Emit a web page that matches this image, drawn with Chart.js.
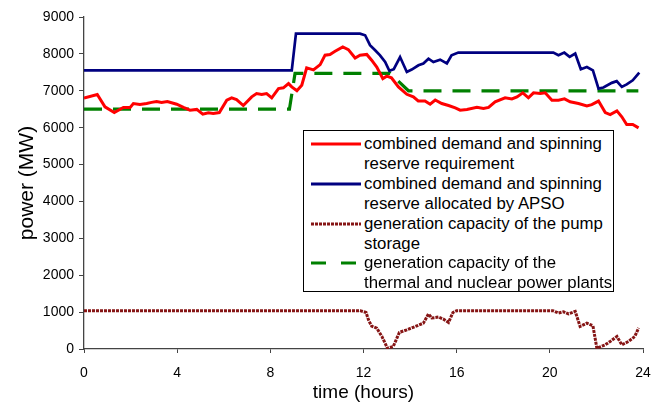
<!DOCTYPE html>
<html>
<head>
<meta charset="utf-8">
<script src="https://cdn.jsdelivr.net/npm/chart.js@4"></script>
<style>
  body { margin: 0; background: #fff; }
  #wrap { position: relative; width: 666px; height: 411px; }
  #legend {
    position: absolute; left: 303px; top: 130px; width: 311px; height: 162px;
    border: 1px solid #000; background: #fff; box-sizing: border-box;
    padding-top: 3px;
    font: 16.8px "Liberation Sans", Arial, sans-serif; line-height: 19.9px; color: #000;
  }
  .entry { position: relative; padding-left: 60px; white-space: nowrap; }
  .entry svg { position: absolute; left: 7px; top: 5px; }
</style>
</head>
<body>
<div id="wrap">
  <canvas id="chart" width="666" height="411"></canvas>
  <div id="legend">
    <div class="entry"><svg width="50" height="10"><line x1="0" y1="5" x2="50" y2="5" stroke="#ff0000" stroke-width="3"/></svg>combined demand and spinning<br>reserve requirement</div>
    <div class="entry"><svg width="50" height="10"><line x1="0" y1="5" x2="50" y2="5" stroke="#000080" stroke-width="3"/></svg>combined demand and spinning<br>reserve allocated by APSO</div>
    <div class="entry"><svg width="50" height="10"><line x1="0" y1="5" x2="50" y2="5" stroke="#861515" stroke-width="3" stroke-dasharray="3,1"/></svg>generation capacity of the pump<br>storage</div>
    <div class="entry"><svg width="50" height="10"><line x1="0" y1="5" x2="50" y2="5" stroke="#008000" stroke-width="3" stroke-dasharray="15,15"/></svg>generation capacity of the<br>thermal and nuclear power plants</div>
  </div>
</div>
<script>
// time axis in hours, power in MW
const xTicks = [0, 4, 8, 12, 16, 20, 24];
const yTicks = [0, 1000, 2000, 3000, 4000, 5000, 6000, 7000, 8000, 9000];

const redHours = [0, 0.57, 0.9, 1.3, 1.69, 1.98, 2.12, 2.4, 2.69, 2.9, 3.12, 3.33, 3.58, 3.98, 4.27, 4.55, 4.84, 5.1, 5.34, 5.55,
  5.81, 6.13, 6.34, 6.55, 6.84, 7.2, 7.41, 7.63, 7.84, 8.06, 8.35, 8.56, 8.78, 8.92, 9.14, 9.35, 9.56, 9.85, 10.14, 10.35,
  10.56, 10.78, 11.11, 11.35, 11.64, 11.85, 12.14, 12.35, 12.57, 12.83, 13.0, 13.2, 13.5, 13.86, 14.14, 14.35, 14.64, 14.86, 15.08, 15.36,
  15.65, 15.94, 16.15, 16.44, 16.87, 17.15, 17.37, 17.65, 18.08, 18.37, 18.59, 18.84, 19.08, 19.3, 19.59, 19.8, 20.09, 20.37, 20.63, 20.87,
  21.23, 21.59, 21.8, 22.09, 22.38, 22.59, 22.88, 23.09, 23.3, 23.56, 23.81];
const redPower = [6800, 6900, 6565, 6410, 6550, 6550, 6655, 6630, 6655, 6685, 6710, 6685, 6710, 6635, 6550, 6475, 6495, 6365, 6405, 6385,
  6410, 6745, 6810, 6760, 6600, 6835, 6925, 6900, 6925, 6810, 7060, 7080, 7195, 7105, 7000, 7150, 7620, 7565, 7710, 7965,
  7985, 8070, 8190, 8115, 7890, 7965, 7985, 7830, 7645, 7330, 7395, 7350, 7105, 6905, 6835, 6725, 6725, 6635, 6750, 6655,
  6600, 6535, 6475, 6495, 6550, 6520, 6550, 6700, 6810, 6780, 6835, 6945, 6810, 6945, 6925, 6945, 6745, 6745, 6780, 6700,
  6655, 6590, 6625, 6720, 6410, 6355, 6455, 6295, 6085, 6085, 5995];

const blueHours = [0, 8.92, 9.1, 11.85, 12.07, 12.28, 12.5, 12.71, 12.93, 13.11, 13.3, 13.57, 13.86, 14.07, 14.36, 14.57, 14.79, 15.0, 15.29, 15.58,
  15.78, 16.07, 20.15, 20.37, 20.62, 20.85, 21.09, 21.33, 21.59, 21.85, 22.09, 22.3, 22.66, 22.87, 23.09, 23.3, 23.56, 23.84];
const bluePower = [7555, 7555, 8550, 8550, 8505, 8235, 8100, 7960, 7780, 7540, 7585, 7915, 7510, 7575, 7690, 7740, 7870, 7780, 7845, 7740,
  7960, 8035, 8035, 7965, 8035, 7920, 8010, 7585, 7645, 7555, 7060, 7090, 7215, 7260, 7105, 7175, 7285, 7495];

const pumpHours = [0, 11.85, 12.11, 12.22, 12.35, 12.57, 12.79, 13.03, 13.28, 13.54, 13.86, 14.22, 14.57, 14.79, 14.93, 15.22, 15.43, 15.65, 15.84, 16.0,
  20.13, 20.37, 20.59, 20.8, 21.09, 21.3, 21.59, 21.85, 22.02, 22.38, 22.59, 22.88, 23.09, 23.38, 23.65, 23.81];
const pumpPower = [1040, 1040, 990, 780, 620, 565, 340, 20, 70, 450, 520, 610, 700, 950, 840, 865, 810, 720, 990, 1040,
  1040, 975, 1010, 950, 1020, 610, 700, 630, 20, 115, 205, 340, 115, 205, 340, 570];

const greenHours = [0, 8.82, 9.06, 13.14, 13.93, 23.8];
const greenPower = [6500, 6500, 7470, 7470, 7000, 7000];

function pts(xs, ys) {
  return xs.map((x, i) => ({ x: x, y: ys[i] }));
}

const FONT = '"Liberation Sans", Arial, sans-serif';

new Chart(document.getElementById('chart'), {
  type: 'line',
  data: {
    datasets: [
      { label: 'combined demand and spinning reserve requirement', data: pts(redHours, redPower),
        borderColor: '#ff0000', borderWidth: 3 },
      { label: 'combined demand and spinning reserve allocated by APSO', data: pts(blueHours, bluePower),
        borderColor: '#000080', borderWidth: 2.7 },
      { label: 'generation capacity of the pump storage', data: pts(pumpHours, pumpPower),
        borderColor: '#861515', borderWidth: 3, borderDash: [3, 1] },
      { label: 'generation capacity of the thermal and nuclear power plants', data: pts(greenHours, greenPower),
        borderColor: '#008000', borderWidth: 3.2, borderDash: [18, 11] }
    ]
  },
  options: {
    responsive: false,
    animation: false,
    elements: { point: { radius: 0 }, line: { tension: 0, fill: false, borderCapStyle: 'butt' } },
    layout: { padding: { top: 17, right: 23, left: 0, bottom: 0 } },
    plugins: { legend: { display: false }, tooltip: { enabled: false } },
    scales: {
      x: {
        type: 'linear', min: 0, max: 24,
        afterBuildTicks: s => { s.ticks = xTicks.map(v => ({ value: v })); },
        afterFit: s => { s.height = 62; },
        ticks: { color: '#000', font: { family: FONT, size: 14 }, padding: 12, maxRotation: 0,
          callback: v => String(v) },
        grid: { drawOnChartArea: false, drawTicks: true, tickLength: 4, color: '#444' },
        border: { color: '#444', width: 1.3 },
        title: { display: true, text: 'time (hours)', color: '#000', font: { family: FONT, size: 19 }, padding: { top: 0, bottom: 7 } }
      },
      y: {
        min: 0, max: 9000,
        afterBuildTicks: s => { s.ticks = yTicks.map(v => ({ value: v })); },
        afterFit: s => { s.width = 84; },
        ticks: { color: '#000', font: { family: FONT, size: 14 }, padding: 5,
          callback: v => String(v) },
        grid: { drawOnChartArea: false, drawTicks: true, tickLength: 5, color: '#444' },
        border: { color: '#444', width: 1.3 },
        title: { display: true, text: 'power (MW)', color: '#000', font: { family: FONT, size: 21 }, padding: { top: 15, bottom: 0 } }
      }
    }
  }
});
</script>
</body>
</html>
